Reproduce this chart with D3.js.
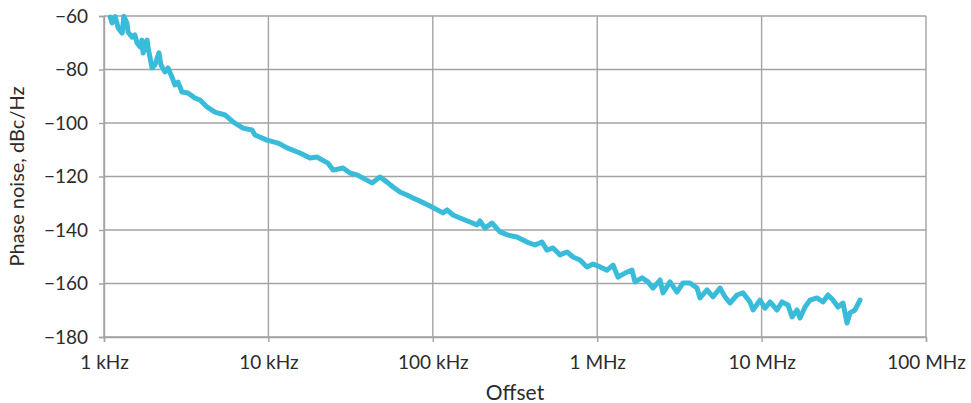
<!DOCTYPE html>
<html>
<head>
<meta charset="utf-8">
<script src="https://cdn.jsdelivr.net/npm/d3@7"></script>
<style>
  body { margin: 0; background: #fff; }
  text { font-family: Lato, "Open Sans", sans-serif; fill: #2b2b2b; }
</style>
</head>
<body>
<div id="chart"></div>
<script>
var width = 971,
    height = 403;
var margin = {top: 16, right: 45, bottom: 66, left: 104};

// offset frequency, kHz
var offsetKHz = [
  1.09, 1.12, 1.17, 1.22, 1.29, 1.32, 1.38, 1.40, 1.48, 1.54,
  1.59, 1.66, 1.70, 1.73, 1.83, 1.85, 1.96, 2.04, 2.16, 2.22,
  2.35, 2.45, 2.59, 2.70, 2.82, 2.98, 3.24, 3.58, 3.84, 4.23,
  4.73, 5.45, 6.09, 7.01, 7.95, 8.29, 9.81, 11.44, 12.98, 15.57,
  17.91, 19.75, 21.18, 23.05, 24.72, 28.43, 31.36, 34.58, 37.62, 42.68,
  47.74, 52.65, 57.27, 63.16, 69.66, 75.79, 83.57, 96.16, 115.3, 122.0,
  132.7, 146.4, 168.4, 185.7, 193.7, 207.7, 229.1, 256.3, 286.7, 325.2,
  374.1, 418.5, 461.5, 495.0, 538.5, 593.9, 655.1, 712.6, 786.0, 867.0,
  943.0, 1040, 1147, 1248, 1338, 1476, 1628, 1698, 1873, 2037,
  2185, 2410, 2513, 2772, 3058, 3326, 3668, 4046, 4221, 4656,
  5064, 5585, 5990, 6424, 7086, 7708, 8500, 8867, 9779, 10490,
  11250, 12410, 13310, 14470, 15310, 16420, 17130, 18370, 19700, 21730,
  23630, 25350, 27190, 29150, 31270, 33070, 34490, 36990, 39670
];

// phase noise, dBc/Hz
var phaseNoise = [
  -60.4, -62.6, -60.2, -64.5, -66.4, -60.1, -62.6, -66.0, -67.9, -67.1,
  -70.1, -71.6, -69.0, -73.8, -69.0, -71.6, -79.4, -78.3, -73.8, -78.3,
  -80.9, -79.4, -82.8, -85.8, -84.7, -88.4, -88.8, -90.7, -91.4, -94.0,
  -95.9, -97.0, -99.6, -101.9, -102.6, -104.5, -106.4, -107.5, -109.3, -111.2,
  -113.1, -112.7, -113.8, -115.0, -117.6, -116.8, -118.7, -119.4, -120.6, -122.4,
  -120.2, -122.1, -123.9, -125.8, -126.9, -128.0, -129.2, -131.0, -133.6, -132.5,
  -134.4, -135.5, -137.0, -138.1, -136.6, -139.3, -137.4, -140.7, -141.9, -142.6,
  -144.5, -145.6, -144.5, -147.5, -146.7, -149.3, -148.2, -150.1, -151.2, -153.8,
  -152.7, -153.8, -155.0, -153.1, -157.6, -156.1, -155.0, -159.4, -157.9, -159.4,
  -161.7, -158.7, -163.5, -159.4, -163.2, -159.8, -159.8, -161.7, -165.4, -162.4,
  -165.0, -161.7, -165.0, -167.3, -164.3, -163.5, -166.9, -169.9, -166.2, -169.2,
  -166.9, -169.9, -166.9, -168.0, -172.5, -169.9, -172.9, -168.8, -166.2, -165.4,
  -166.9, -164.3, -166.2, -168.8, -167.3, -174.8, -171.0, -169.9, -166.2
];

var xTicks = [1e3, 1e4, 1e5, 1e6, 1e7, 1e8];
var xTickLabels = ["1 kHz", "10 kHz", "100 kHz", "1 MHz", "10 MHz", "100 MHz"];
var yTicks = [-60, -80, -100, -120, -140, -160, -180];

var innerW = width - margin.left - margin.right,
    innerH = height - margin.top - margin.bottom;

var svg = d3.select("#chart")
    .append("svg")
    .attr("width", width)
    .attr("height", height)
    .append("g")
    .attr("transform", "translate(" + margin.left + "," + margin.top + ")");

var x = d3.scaleLog().domain([1e3, 1e8]).range([0, innerW]);
var y = d3.scaleLinear().domain([-180, -60]).range([innerH, 0]);

/* grid */
svg.append("g")
    .selectAll("line.h")
    .data(yTicks)
    .enter().append("line")
    .attr("x1", 0).attr("x2", innerW)
    .attr("y1", function(d) { return y(d); })
    .attr("y2", function(d) { return y(d); })
    .style("stroke", "#a3a3a3")
    .style("stroke-width", 1.4);

svg.append("g")
    .selectAll("line.v")
    .data(xTicks)
    .enter().append("line")
    .attr("y1", 0).attr("y2", innerH)
    .attr("x1", function(d) { return x(d); })
    .attr("x2", function(d) { return x(d); })
    .style("stroke", "#a3a3a3")
    .style("stroke-width", 1.4);

/* axes */
var xAxis = svg.append("g")
    .attr("transform", "translate(0," + innerH + ")")
    .call(d3.axisBottom(x)
        .tickValues(xTicks)
        .tickFormat(function(d, i) { return xTickLabels[i]; })
        .tickSize(5)
        .tickPadding(14));

var yAxis = svg.append("g")
    .call(d3.axisLeft(y)
        .tickValues(yTicks)
        .tickFormat(d3.format("d"))
        .tickSize(5)
        .tickPadding(11));

[xAxis, yAxis].forEach(function(a) {
  a.select(".domain").style("stroke", "#a3a3a3").style("stroke-width", 1.4);
  a.selectAll(".tick line").style("stroke", "#a3a3a3").style("stroke-width", 1.4);
  a.selectAll("text").style("font-size", "19px").style("font-family", "Lato, sans-serif").style("fill", "#2b2b2b");
});

/* axis titles */
svg.append("text")
    .attr("x", innerW / 2)
    .attr("y", innerH + 63)
    .attr("text-anchor", "middle")
    .style("font-size", "21px")
    .text("Offset");

svg.append("text")
    .attr("transform", "translate(" + (-80) + "," + (innerH / 2) + ") rotate(-90)")
    .attr("text-anchor", "middle")
    .style("font-size", "20px")
    .text("Phase noise, dBc/Hz");

/* trace */
var points = offsetKHz.map(function(f, i) { return [f * 1e3, phaseNoise[i]]; });

var line = d3.line()
    .x(function(d) { return x(d[0]); })
    .y(function(d) { return y(d[1]); });

svg.append("path")
    .datum(points)
    .attr("d", line)
    .style("fill", "none")
    .style("stroke", "#38bcd9")
    .style("stroke-width", 5)
    .style("stroke-linejoin", "round")
    .style("stroke-linecap", "round");
</script>
</body>
</html>
